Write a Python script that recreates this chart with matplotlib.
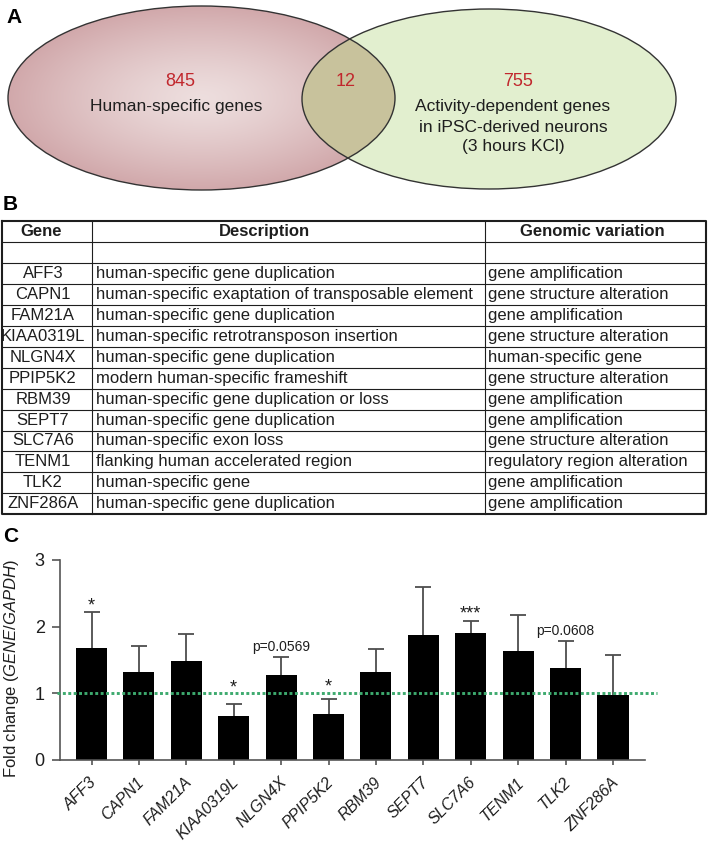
import numpy as np
import matplotlib
matplotlib.use('Agg')
import matplotlib.pyplot as plt
import matplotlib.transforms as mtransforms
from matplotlib.patches import Ellipse

plt.rcParams['font.family'] = ['Liberation Sans', 'DejaVu Sans']
plt.rcParams['mathtext.fontset'] = 'custom'
plt.rcParams['mathtext.rm'] = 'Liberation Sans'
plt.rcParams['mathtext.it'] = 'Liberation Sans:italic'

# Panel A - Venn counts and labels
venn_counts = ['845', '12', '755']
left_lines = ['Human-specific genes']
right_lines = ['Activity-dependent genes', 'in iPSC-derived neurons', '(3 hours KCl)']

# Panel B - table
table_header = ['Gene', 'Description', 'Genomic variation']
genes = ['AFF3', 'CAPN1', 'FAM21A', 'KIAA0319L', 'NLGN4X', 'PPIP5K2',
         'RBM39', 'SEPT7', 'SLC7A6', 'TENM1', 'TLK2', 'ZNF286A']
descriptions = ['human-specific gene duplication',
                'human-specific exaptation of transposable element',
                'human-specific gene duplication',
                'human-specific retrotransposon insertion',
                'human-specific gene duplication',
                'modern human-specific frameshift',
                'human-specific gene duplication or loss',
                'human-specific gene duplication',
                'human-specific exon loss',
                'flanking human accelerated region',
                'human-specific gene',
                'human-specific gene duplication']
variations = ['gene amplification', 'gene structure alteration', 'gene amplification',
              'gene structure alteration', 'human-specific gene', 'gene structure alteration',
              'gene amplification', 'gene amplification', 'gene structure alteration',
              'regulatory region alteration', 'gene amplification', 'gene amplification']

# Panel C - fold change (GENE/GAPDH)
fold_change = [1.68, 1.32, 1.48, 0.66, 1.27, 0.69, 1.32, 1.87, 1.91, 1.63, 1.38, 0.98]
sem = [0.54, 0.39, 0.41, 0.18, 0.27, 0.22, 0.34, 0.73, 0.18, 0.54, 0.40, 0.59]
marks = ['*', '', '', '*', 'p=0.0569', '*', '', '', '***', '', 'p=0.0608', '']
mark_y = [2.25, 0, 0, 1.02, 1.635, 1.03, 0, 0, 2.13, 0, 1.875, 0]

W, H = 709, 842
fig = plt.figure(figsize=(W / 100, H / 100), dpi=100)

# background axes in pixel coordinates for panels A and B
ax0 = fig.add_axes([0, 0, 1, 1])
ax0.set_xlim(0, W)
ax0.set_ylim(H, 0)
ax0.axis('off')

txt = '#1e1e1e'
red = '#c1272d'

# panel labels
ax0.text(14.5, 17.5, 'A', fontsize=15, fontweight='bold', ha='center', va='center')
ax0.text(10.5, 205, 'B', fontsize=15, fontweight='bold', ha='center', va='center')
ax0.text(10.5, 537, 'C', fontsize=15, fontweight='bold', ha='center', va='center')

# ---- Venn ----
lc, lw_, lh = (201.5, 98), 387, 184
rc, rw, rh = (489, 99), 374, 180

left_clip = Ellipse(lc, lw_, lh, fc='none', ec='none')
ax0.add_patch(left_clip)
yy, xx = np.mgrid[-1:1:200j, -1:1:300j]
r = np.sqrt(xx ** 2 + yy ** 2).clip(0, 1)
c0 = np.array([0.93, 0.87, 0.87])
c1 = np.array([0.82, 0.66, 0.67])
img = c0 + (c1 - c0) * (r ** 1.3)[..., None]
im = ax0.imshow(img, extent=(lc[0] - lw_ / 2, lc[0] + lw_ / 2, lc[1] + lh / 2, lc[1] - lh / 2),
                aspect='auto', zorder=1, interpolation='bilinear')
im.set_clip_path(left_clip)

ax0.add_patch(Ellipse(rc, rw, rh, fc='#e2efcf', ec='none', zorder=2))
overlap = Ellipse(rc, rw, rh, fc='#c8c29c', ec='none', zorder=3)
ax0.add_patch(overlap)
overlap.set_clip_path(left_clip)
ax0.add_patch(Ellipse(lc, lw_, lh, fill=False, ec='#333333', lw=1, zorder=4))
ax0.add_patch(Ellipse(rc, rw, rh, fill=False, ec='#333333', lw=1, zorder=4))

ax0.set_xlim(0, W)
ax0.set_ylim(H, 0)

ax0.text(180.5, 81, venn_counts[0], color=red, fontsize=13, ha='center', va='center', zorder=5)
ax0.text(345.5, 81, venn_counts[1], color=red, fontsize=13, ha='center', va='center', zorder=5)
ax0.text(518, 81, venn_counts[2], color=red, fontsize=13, ha='center', va='center', zorder=5)
ax0.text(176, 106, left_lines[0], color=txt, fontsize=12.5, ha='center', va='center', zorder=5)
for i, line in enumerate(right_lines):
    ax0.text(513, 107 + i * 20, line, color=txt, fontsize=12.5, ha='center', va='center', zorder=5)

# ---- Table ----
col_x = [2, 92, 485, 706]
top, row_h = 221, 20.95
n_rows = len(genes) + 2
bottom = top + n_rows * row_h
for i in range(1, n_rows):
    ax0.plot([col_x[0], col_x[-1]], [top + i * row_h] * 2, color=txt, lw=0.8)
for xc in col_x[1:-1]:
    ax0.plot([xc, xc], [top, bottom], color=txt, lw=0.8)
ax0.plot([col_x[0], col_x[-1], col_x[-1], col_x[0], col_x[0]],
         [top, top, bottom, bottom, top], color=txt, lw=1.5)

head_x = [41, 264, 592]
for hx, name in zip(head_x, table_header):
    ax0.text(hx, top + row_h / 2, name, fontsize=12, fontweight='bold', color=txt,
             ha='center', va='center')
for i, (g, d, v) in enumerate(zip(genes, descriptions, variations)):
    yc = top + (i + 2.5) * row_h
    ax0.text(43, yc, g, fontsize=12, color=txt, ha='center', va='center')
    ax0.text(95.5, yc, d, fontsize=12, color=txt, ha='left', va='center')
    ax0.text(488, yc, v, fontsize=12, color=txt, ha='left', va='center')

# ---- Bar chart ----
ax = fig.add_axes([60 / W, (H - 760) / H, 585 / W, 200 / H])
x = np.arange(len(genes))
ax.bar(x, fold_change, width=0.654, color='black', zorder=2)
# symmetric bars drawn behind the columns, so only the upper half shows
ax.errorbar(x, fold_change, yerr=sem, fmt='none',
            ecolor='#4d4d4d', elinewidth=1.3, capsize=6, capthick=1.3, zorder=1)
ax.plot([-0.73, 11.93], [1, 1], color='#3daa6e', lw=2.1, linestyle=(0, (1, 0.85)),
        dash_capstyle='butt', clip_on=False, zorder=3)

for xi, m, my in zip(x, marks, mark_y):
    if m:
        fs = 10 if m.startswith('p') else 13
        ax.text(xi, my, m, fontsize=fs, color=txt, ha='center', va='baseline')

ax.set_xlim(-0.665, 11.675)
ax.set_ylim(0, 3)
ax.set_yticks([0, 1, 2, 3])
for s in ['top', 'right']:
    ax.spines[s].set_visible(False)
for s in ['left', 'bottom']:
    ax.spines[s].set_color('#555555')
    ax.spines[s].set_linewidth(1.2)
ax.tick_params(axis='y', length=6, width=1.2, color='#555555', labelsize=13, pad=5, labelcolor=txt)
ax.tick_params(axis='x', length=3.5, width=1.2, color='#555555', labelsize=11.5, pad=11, labelcolor=txt)
ax.set_xticks(x)
ax.set_xticklabels(genes, fontstyle='italic')
offset = mtransforms.ScaledTranslation(3 / 100, 0, fig.dpi_scale_trans)
for lab in ax.get_xticklabels():
    lab.set_rotation(45)
    lab.set_ha('right')
    lab.set_va('center')
    lab.set_rotation_mode('anchor')
    lab.set_transform(lab.get_transform() + offset)

ax.set_ylabel(r'Fold change ($\mathit{GENE/GAPDH}$)', fontsize=12, color=txt)
ax.yaxis.set_label_coords(-0.066, 0.46)

fig.savefig('out.png', dpi=100)
